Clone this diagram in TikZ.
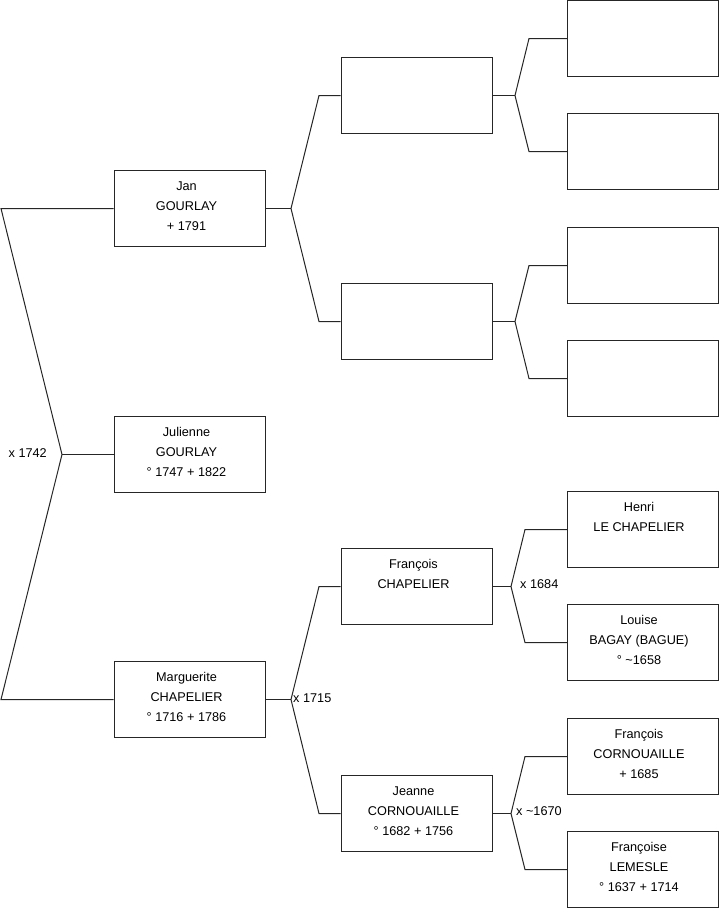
\documentclass[tikz,border=0pt]{standalone}
\usepackage{fontspec}
\setmainfont{Liberation Sans}
\begin{document}
\begin{tikzpicture}[x=1pt,y=-1pt,
  box/.style={draw=black!85, line width=1pt, minimum width=151pt, minimum height=76pt, inner sep=0pt},
  txt/.style={anchor=base, align=center, inner sep=0pt, font=\fontsize{12.7}{20}\selectfont},
  lbl/.style={inner sep=0pt, font=\fontsize{12.7}{20}\selectfont},
  link/.style={draw=black!85, line width=1pt, line join=miter}]
\useasboundingbox (0,0) rectangle (719,908);
% column 1
\node[box] (jan) at (189.5,208.5) {};
\node[box] (jul) at (189.5,454.5) {};
\node[box] (mar) at (189.5,699.5) {};
% column 2
\node[box] (pa) at (416.5,95.5) {};
\node[box] (pb) at (416.5,321.5) {};
\node[box] (fra) at (416.5,586.5) {};
\node[box] (jea) at (416.5,813.5) {};
% column 3
\node[box] (c1) at (643,38.5) {};
\node[box] (c2) at (643,151.5) {};
\node[box] (c3) at (643,265.5) {};
\node[box] (c4) at (643,378.5) {};
\node[box] (hen) at (643,529.5) {};
\node[box] (lou) at (643,642.5) {};
\node[box] (fco) at (643,756.5) {};
\node[box] (fle) at (643,869.5) {};
% texts (anchor base = baseline of last line)
\node[txt] (tjan) at ([xshift=-3pt,yshift=-60pt]jan.north) {Jan\\GOURLAY\\+ 1791};
\node[txt] (tjul) at ([xshift=-3pt,yshift=-60pt]jul.north) {Julienne\\GOURLAY\\° 1747 + 1822};
\node[txt] (tmar) at ([xshift=-3pt,yshift=-60pt]mar.north) {Marguerite\\CHAPELIER\\° 1716 + 1786};
\node[txt] (tfra) at ([xshift=-3pt,yshift=-40pt]fra.north) {François\\CHAPELIER};
\node[txt] (tjea) at ([xshift=-3pt,yshift=-60pt]jea.north) {Jeanne\\CORNOUAILLE\\° 1682 + 1756};
\node[txt] (then) at ([xshift=-4pt,yshift=-40pt]hen.north) {Henri\\LE CHAPELIER};
\node[txt] (tlou) at ([xshift=-4pt,yshift=-60pt]lou.north) {Louise\\BAGAY (BAGUE)\\° \textasciitilde1658};
\node[txt] (tfco) at ([xshift=-4pt,yshift=-60pt]fco.north) {François\\CORNOUAILLE\\+ 1685};
\node[txt] (tfle) at ([xshift=-4pt,yshift=-60pt]fle.north) {Françoise\\LEMESLE\\° 1637 + 1714};
% fork coordinates
\coordinate (l0) at (1,208.5);
\coordinate (l1) at (62,454.5);
\coordinate (l2) at (1,699.5);
\coordinate (f1) at (291,208.5);
\coordinate (f1a) at (319,95.5);
\coordinate (f1b) at (319,321.5);
\coordinate (f2) at (515,95.5);
\coordinate (f2a) at (529,38.5);
\coordinate (f2b) at (529,151.5);
\coordinate (f3) at (515,321.5);
\coordinate (f3a) at (529,265.5);
\coordinate (f3b) at (529,378.5);
\coordinate (f4) at (291,699.5);
\coordinate (f4a) at (319,586.5);
\coordinate (f4b) at (319,813.5);
\coordinate (f5) at (511,586.5);
\coordinate (f5a) at (525,529.5);
\coordinate (f5b) at (525,642.5);
\coordinate (f6) at (511,813.5);
\coordinate (f6a) at (525,756.5);
\coordinate (f6b) at (525,869.5);
% connectors
\draw[link] (jan.west) -- (l0) -- (l1) -- (l2) -- (mar.west);
\draw[link] (l1) -- (jul.west);
\draw[link] (jan.east) -- (f1);
\draw[link] (pa.west) -- (f1a) -- (f1) -- (f1b) -- (pb.west);
\draw[link] (pa.east) -- (f2);
\draw[link] (c1.west) -- (f2a) -- (f2) -- (f2b) -- (c2.west);
\draw[link] (pb.east) -- (f3);
\draw[link] (c3.west) -- (f3a) -- (f3) -- (f3b) -- (c4.west);
\draw[link] (mar.east) -- (f4);
\draw[link] (fra.west) -- (f4a) -- (f4) -- (f4b) -- (jea.west);
\draw[link] (fra.east) -- (f5);
\draw[link] (hen.west) -- (f5a) -- (f5) -- (f5b) -- (lou.west);
\draw[link] (jea.east) -- (f6);
\draw[link] (fco.west) -- (f6a) -- (f6) -- (f6b) -- (fle.west);
% marriage labels
\node[lbl, anchor=base east] (m1742) at (47,457) {x 1742};
\node[lbl, anchor=base west] (m1715) at (293,702) {x 1715};
\node[lbl, anchor=base west] (m1684) at (520,588.5) {x 1684};
\node[lbl, anchor=base west] (m1670) at (516,815.5) {x \textasciitilde1670};
\end{tikzpicture}
\end{document}
